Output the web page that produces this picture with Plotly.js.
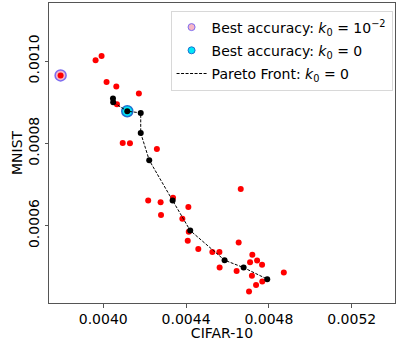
<!DOCTYPE html>
<html>
<head>
<meta charset="utf-8">
<script src="https://cdn.plot.ly/plotly-3.0.1.min.js"></script>
<style>html,body{margin:0;padding:0;background:#fff;}#chart{width:396px;height:341px;}</style>
</head>
<body>
<div id="chart"></div>
<script>
// Other configurations (red)
const otherCifar = [0.003963,0.003992,0.004016,0.004063,0.004172,0.004066,0.004094,0.004129,0.004259,
  0.004217,0.004277,0.004337,0.004279,0.004411,0.004382,0.004413,0.004408,0.004459,0.004527,0.004561,
  0.004664,0.004654,0.004720,0.004709,0.004743,0.004767,0.004562,0.004644,0.004718,0.004768,0.004738,
  0.004704,0.004872,0.003794];
const otherMnist = [0.001002,0.001012,0.000949,0.000938,0.000921,0.000895,0.000801,0.000800,0.000786,
  0.000661,0.000657,0.000668,0.000626,0.000645,0.000617,0.000585,0.000563,0.000543,0.000536,0.000536,
  0.000689,0.000559,0.000529,0.000511,0.000515,0.000505,0.000498,0.000490,0.000478,0.000464,0.000456,
  0.000440,0.000486,0.000965];
// Pareto front k0 = 0 (black)
const paretoCifar = [0.004047,0.004048,0.004116,0.004181,0.004181,0.004222,0.004335,0.004420,0.004586,0.004678,0.004792];
const paretoMnist = [0.000909,0.000900,0.000878,0.000874,0.000825,0.000759,0.000661,0.000588,0.000516,0.000498,0.000470];
// Best accuracy points
const bestK2Cifar = [0.003794];
const bestK2Mnist = [0.000965];
const bestK0Cifar = [0.004116];
const bestK0Mnist = [0.000878];
const xTicks = [0.0040,0.0044,0.0048,0.0052];
const xTickLabels = ["0.0040","0.0044","0.0048","0.0052"];
const yTicks = [0.0006,0.0008,0.0010];
const yTickLabels = ["0.0006","0.0008","0.0010"];

const font = "DejaVu Sans, sans-serif";
const k2Marker = {color: '#f7b6c6', line: {color: '#7d6cf0', width: 1.5}};
const k0Marker = {color: '#00e8f8', line: {color: '#1f6fd0', width: 1.5}};
const traces = [
  {x: bestK2Cifar, y: bestK2Mnist, mode: 'markers', type: 'scatter', showlegend: false,
   marker: Object.assign({size: 11}, k2Marker)},
  {x: bestK0Cifar, y: bestK0Mnist, mode: 'markers', type: 'scatter', showlegend: false,
   marker: Object.assign({size: 11}, k0Marker)},
  {x: otherCifar, y: otherMnist, mode: 'markers', type: 'scatter', showlegend: false,
   marker: {size: 6, color: '#ff0000'}},
  {x: paretoCifar, y: paretoMnist, mode: 'lines', type: 'scatter', showlegend: false,
   line: {color: '#000', width: 1, dash: '3px,1.5px'}},
  {x: paretoCifar, y: paretoMnist, mode: 'markers', type: 'scatter', showlegend: false,
   marker: {size: 6, color: '#000'}},
  // legend entries
  {x: [null], y: [null], mode: 'markers', type: 'scatter', legendgroup: 'a',
   name: 'Best accuracy: <i>k</i><sub>0</sub> = 10<sup>−2</sup>',
   marker: Object.assign({size: 7}, {color: '#f7b6c6', line: {color: '#7d6cf0', width: 1}})},
  {x: [null], y: [null], mode: 'markers', type: 'scatter', legendgroup: 'b',
   name: 'Best accuracy: <i>k</i><sub>0</sub> = 0',
   marker: Object.assign({size: 7}, {color: '#00e8f8', line: {color: '#1f6fd0', width: 1}})},
  {x: [null], y: [null], mode: 'lines', type: 'scatter', legendgroup: 'c',
   name: 'Pareto Front: <i>k</i><sub>0</sub> = 0',
   line: {color: '#000', width: 1, dash: '3px,1.5px'}}
];
const layout = {
  width: 396, height: 341,
  margin: {l: 49, r: 1, t: 3, b: 38},
  paper_bgcolor: '#fff', plot_bgcolor: '#fff',
  font: {family: font, size: 14, color: '#000'},
  showlegend: true,
  legend: {x: 0.993, xanchor: 'right', y: 0.975, yanchor: 'top',
    bgcolor: 'rgba(255,255,255,0.8)', bordercolor: '#d8d8d8', borderwidth: 1,
    traceorder: 'grouped', tracegroupgap: 2,
    font: {family: font, size: 14}, itemwidth: 30},
  xaxis: {range: [0.003738, 0.005409], tickvals: xTicks, ticktext: xTickLabels,
    showgrid: false, zeroline: false, showline: true, mirror: true, linecolor: '#555', linewidth: 1,
    ticks: 'outside', ticklen: 3.5, tickcolor: '#555',
    tickfont: {family: font, size: 14},
    title: {text: 'CIFAR-10', font: {family: font, size: 14}, standoff: 0}},
  yaxis: {range: [0.000412, 0.001141], tickvals: yTicks, ticktext: yTickLabels, tickangle: -90,
    showgrid: false, zeroline: false, showline: true, mirror: true, linecolor: '#555', linewidth: 1,
    ticks: 'outside', ticklen: 3.5, tickcolor: '#555',
    tickfont: {family: font, size: 14},
    title: {text: 'MNIST', font: {family: font, size: 14}, standoff: 0}}
};
Plotly.newPlot('chart', traces, layout, {staticPlot: true, displayModeBar: false});
</script>
</body>
</html>
